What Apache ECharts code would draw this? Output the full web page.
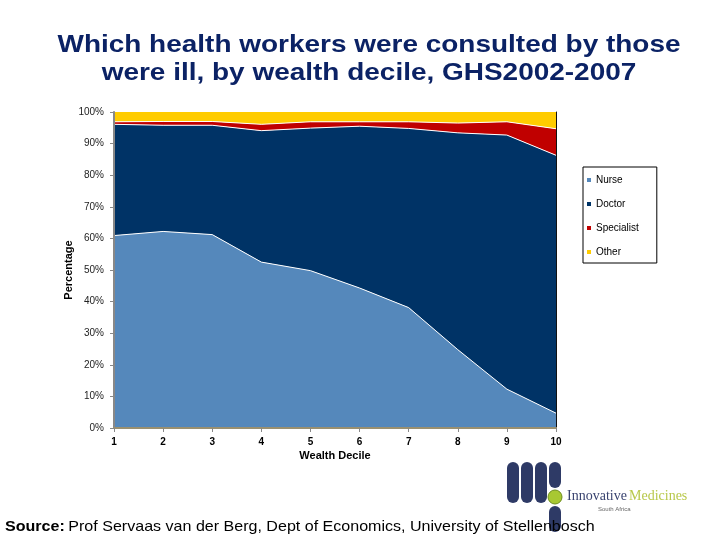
<!DOCTYPE html>
<html>
<head>
<meta charset="utf-8">
<script src="https://cdn.jsdelivr.net/npm/echarts@6/dist/echarts.min.js"></script>
<style>html,body{margin:0;padding:0;background:#fff}#c{width:720px;height:540px}</style>
</head>
<body>
<div id="c"></div>
<script>
var categories = ['1','2','3','4','5','6','7','8','9','10'];
var nurse      = [60.9, 62.2, 61.2, 52.5, 49.8, 44.3, 38.1, 24.8, 12.3, 4.7];
var doctor     = [35.2, 33.6, 34.6, 41.6, 45.1, 51.2, 56.7, 68.6, 80.4, 81.6];
var specialist = [0.8, 1.2, 1.2, 2.0, 2.0, 1.4, 2.1, 3.1, 4.2, 8.4];
var other      = [3.1, 3.0, 3.0, 3.9, 3.1, 3.1, 3.1, 3.5, 3.1, 5.3];
var seriesNames = ['Nurse','Doctor','Specialist','Other'];
var seriesColors = ['#5588BB','#003366','#C00000','#FFCC00'];
var seriesData = [nurse, doctor, specialist, other];
var titleLines = ['Which health workers were consulted by those', 'were ill, by wealth decile, GHS2002-2007'];

var FONT = 'Liberation Sans, Arial, sans-serif';
var chart = echarts.init(document.getElementById('c'));

var series = seriesData.map(function (d, i) {
  return {
    name: seriesNames[i],
    type: 'line',
    stack: 'total',
    data: d,
    showSymbol: false,
    symbol: 'none',
    color: seriesColors[i],
    lineStyle: { color: '#ffffff', width: i === 3 ? 0 : 1 },
    areaStyle: { color: seriesColors[i], opacity: 1 },
    emphasis: { disabled: true },
    z: 2
  };
});

chart.setOption({
  animation: false,
  backgroundColor: '#ffffff',
  legend: {
    orient: 'vertical',
    left: 583, top: 167,
    data: seriesNames.map(function (n, i) { return { name: n, icon: 'rect', itemStyle: { color: seriesColors[i] } }; }),
    itemWidth: 4, itemHeight: 4, itemGap: 12,
    padding: [7, 18, 5, 4],
    borderColor: '#000', borderWidth: 1,
    textStyle: { fontFamily: FONT, fontSize: 10, color: '#000', lineHeight: 12 },
    selectedMode: false
  },
  grid: { left: 114, right: 164, top: 112, bottom: 112, show: false },
  xAxis: [{
    type: 'category', data: categories, boundaryGap: false,
    name: 'Wealth Decile', nameLocation: 'middle', nameGap: 22, nameMoveOverlap: false,
    nameTextStyle: { fontFamily: FONT, fontSize: 11, fontWeight: 'bold', color: '#000' },
    axisLine: { lineStyle: { color: '#888888', width: 2 } },
    axisTick: { show: true, alignWithLabel: true, length: 4, lineStyle: { color: '#888888' } },
    axisLabel: { fontFamily: FONT, fontSize: 10, fontWeight: 'bold', color: '#000', margin: 9 },
    splitLine: { show: false }, z: 5
  }, {
    type: 'category', data: categories, boundaryGap: false, position: 'top',
    axisLine: { lineStyle: { color: '#9A9070', width: 2 } },
    axisTick: { show: false }, axisLabel: { show: false }, z: 5
  }],
  yAxis: [{
    type: 'value', min: 0, max: 100, interval: 10,
    name: 'Percentage', nameLocation: 'middle', nameGap: 40, nameRotate: 90, nameMoveOverlap: false,
    nameTextStyle: { fontFamily: FONT, fontSize: 11, fontWeight: 'bold', color: '#000' },
    axisLine: { show: true, lineStyle: { color: '#888888', width: 2 } },
    axisTick: { show: true, length: 4, lineStyle: { color: '#888888' } },
    axisLabel: { fontFamily: FONT, fontSize: 10, color: '#222', margin: 10, formatter: '{value}%' },
    splitLine: { show: false }, z: 5
  }, {
    type: 'value', min: 0, max: 100, interval: 10, position: 'right',
    axisLine: { show: true, lineStyle: { color: '#111111', width: 1 } },
    axisTick: { show: false }, axisLabel: { show: false }, splitLine: { show: false }, z: 5
  }],
  series: series,
  graphic: [
    { type: 'text', x: 369, y: 45, scaleX: 1.165, style: { text: titleLines[0], textAlign: 'center', textVerticalAlign: 'middle', fill: '#0B2265', font: 'bold 24px "Liberation Sans", Arial, sans-serif' } },
    { type: 'text', x: 369, y: 73, scaleX: 1.165, style: { text: titleLines[1], textAlign: 'center', textVerticalAlign: 'middle', fill: '#0B2265', font: 'bold 24px "Liberation Sans", Arial, sans-serif' } },
    { type: 'rect', shape: { x: 507, y: 462, width: 12, height: 41, r: 6 }, style: { fill: '#2E3A66' } },
    { type: 'rect', shape: { x: 521, y: 462, width: 12, height: 41, r: 6 }, style: { fill: '#2E3A66' } },
    { type: 'rect', shape: { x: 535, y: 462, width: 12, height: 41, r: 6 }, style: { fill: '#2E3A66' } },
    { type: 'rect', shape: { x: 549, y: 462, width: 12, height: 26, r: 6 }, style: { fill: '#2E3A66' } },
    { type: 'circle', shape: { cx: 555, cy: 497, r: 7 }, style: { fill: '#A8C832', stroke: '#6E8E1E', lineWidth: 1 } },
    { type: 'rect', shape: { x: 549, y: 506, width: 12, height: 26, r: 6 }, style: { fill: '#2E3A66' } },
    { type: 'text', left: 567, top: 489, style: { text: 'Innovative', fill: '#3A4470', font: '14px "Liberation Serif", "DejaVu Serif", serif' } },
    { type: 'text', left: 629, top: 489, style: { text: 'Medicines', fill: '#B8C84A', font: '14px "Liberation Serif", "DejaVu Serif", serif' } },
    { type: 'text', left: 598, top: 506, style: { text: 'South Africa', fill: '#666', font: '6px "Liberation Sans", Arial, sans-serif' } },
    { type: 'text', x: 5, y: 527, scaleX: 1.07, style: {
        textVerticalAlign: 'middle',
        rich: {
          b: { fontFamily: FONT, fontSize: 15, fontWeight: 'bold', fill: '#000' },
          n: { fontFamily: FONT, fontSize: 15, fill: '#000' }
        },
        text: '{b|Source:} {n|Prof Servaas van der Berg, Dept of Economics, University of Stellenbosch}'
      } }
  ]
});
</script>
</body>
</html>
